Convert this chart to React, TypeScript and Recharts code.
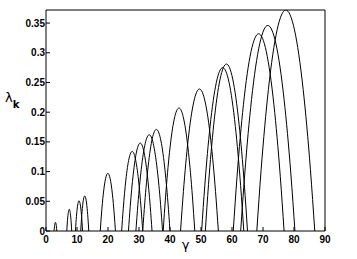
import { Label, Line, LineChart, XAxis, YAxis } from "recharts";

const xTicks = [0, 10, 20, 30, 40, 50, 60, 70, 80, 90];
const yTicks = [0, 0.05, 0.1, 0.15, 0.2, 0.25, 0.3, 0.35];

// gamma positions of each branch
const arcGamma = [
  [2.6, 2.67, 2.78, 2.92, 3.05, 3.19, 3.32, 3.43, 3.5],
  [6.7, 6.82, 7.02, 7.26, 7.5, 7.74, 7.98, 8.18, 8.3],
  [9.5, 9.67, 9.96, 10.31, 10.65, 10.99, 11.34, 11.63, 11.8],
  [11.2, 11.4, 11.72, 12.11, 12.5, 12.89, 13.28, 13.6, 13.8],
  [17.5, 17.87, 18.48, 19.22, 19.95, 20.69, 21.42, 22.03, 22.4],
  [24.4, 24.91, 25.76, 26.78, 27.8, 28.82, 29.84, 30.69, 31.2],
  [26.6, 27.17, 28.12, 29.26, 30.4, 31.54, 32.68, 33.63, 34.2],
  [29.0, 29.65, 30.72, 32.01, 33.3, 34.59, 35.88, 36.96, 37.6],
  [31.2, 31.86, 32.96, 34.28, 35.6, 36.92, 38.24, 39.34, 40.0],
  [37.8, 38.57, 39.84, 41.37, 42.9, 44.43, 45.96, 47.24, 48.0],
  [43.4, 44.32, 45.84, 47.67, 49.5, 51.33, 53.16, 54.69, 55.6],
  [50.2, 51.22, 52.92, 54.96, 57.0, 59.04, 61.08, 62.78, 63.8],
  [51.4, 52.42, 54.12, 56.16, 58.2, 60.24, 62.28, 63.98, 65.0],
  [60.4, 61.63, 63.68, 66.14, 68.6, 71.06, 73.52, 75.57, 76.8],
  [62.8, 64.11, 66.3, 68.93, 71.55, 74.18, 76.8, 78.99, 80.3],
  [68.0, 69.4, 71.74, 74.55, 77.35, 80.16, 82.96, 85.3, 86.7],
];

// lambda_k values along each branch
const arcLambda = [
  [0, 0.004, 0.0093, 0.0132, 0.0145, 0.0132, 0.0093, 0.004, 0],
  [0, 0.0101, 0.0234, 0.0332, 0.0365, 0.0332, 0.0234, 0.0101, 0],
  [0, 0.0142, 0.0326, 0.0464, 0.051, 0.0464, 0.0326, 0.0142, 0],
  [0, 0.0164, 0.0378, 0.0537, 0.059, 0.0537, 0.0378, 0.0164, 0],
  [0, 0.0269, 0.0621, 0.0883, 0.097, 0.0883, 0.0621, 0.0269, 0],
  [0, 0.0372, 0.0858, 0.1219, 0.134, 0.1219, 0.0858, 0.0372, 0],
  [0, 0.0411, 0.0947, 0.1347, 0.148, 0.1347, 0.0947, 0.0411, 0],
  [0, 0.045, 0.1037, 0.1474, 0.162, 0.1474, 0.1037, 0.045, 0],
  [0, 0.0475, 0.1094, 0.1556, 0.171, 0.1556, 0.1094, 0.0475, 0],
  [0, 0.0574, 0.1325, 0.1884, 0.207, 0.1884, 0.1325, 0.0574, 0],
  [0, 0.0663, 0.153, 0.2175, 0.239, 0.2175, 0.153, 0.0663, 0],
  [0, 0.0763, 0.176, 0.2503, 0.275, 0.2503, 0.176, 0.0763, 0],
  [0, 0.078, 0.1798, 0.2557, 0.281, 0.2557, 0.1798, 0.078, 0],
  [0, 0.0921, 0.2125, 0.3021, 0.332, 0.3021, 0.2125, 0.0921, 0],
  [0, 0.096, 0.2214, 0.3149, 0.346, 0.3149, 0.2214, 0.096, 0],
  [0, 0.1032, 0.2381, 0.3385, 0.372, 0.3385, 0.2381, 0.1032, 0],
];

const arcData = arcGamma.map((gs, i) =>
  gs.map((g, j) => ({ g, l: arcLambda[i][j] }))
);

const tickStyle = {
  fill: "#000",
  fontSize: 10,
  fontWeight: "bold" as const,
  fontFamily: "Liberation Sans, Arial, sans-serif",
};

export default function App() {
  return (
    <div style={{ position: "absolute", left: 0, top: 0, background: "#fff" }}>
      <LineChart
        width={357}
        height={259}
        margin={{ top: 9, right: 31, left: 0, bottom: 0 }}
      >
        <XAxis
          dataKey="g"
          type="number"
          domain={[0, 90]}
          ticks={xTicks}
          allowDataOverflow
          height={28}
          stroke="#000"
          tickSize={-4}
          tickMargin={9}
          tick={tickStyle}
        >
          <Label
            content={({ viewBox }: any) => (
              <text
                x={viewBox.x + viewBox.width / 2}
                y={viewBox.y + 18}
                textAnchor="middle"
                fontSize={13}
                fontFamily="DejaVu Sans, sans-serif"
                fill="#000"
              >
                γ
              </text>
            )}
          />
        </XAxis>
        <XAxis
          xAxisId="top"
          orientation="top"
          dataKey="g"
          type="number"
          domain={[0, 90]}
          ticks={xTicks}
          allowDataOverflow
          height={1}
          stroke="#000"
          tickSize={-4}
          tick={false}
        />
        <YAxis
          type="number"
          domain={[0, 0.372]}
          ticks={yTicks}
          allowDataOverflow
          width={46}
          stroke="#000"
          tickSize={-4}
          tickMargin={5}
          tick={tickStyle}
        >
          <Label
            content={() => (
              <text x={5} y={102} fill="#000" fontFamily="DejaVu Sans, sans-serif">
                <tspan fontSize={13}>λ</tspan>
                <tspan fontSize={10} fontWeight="bold" dy={6}>
                  k
                </tspan>
              </text>
            )}
          />
        </YAxis>
        <YAxis
          yAxisId="right"
          orientation="right"
          type="number"
          domain={[0, 0.372]}
          ticks={yTicks}
          allowDataOverflow
          width={1}
          stroke="#000"
          tickSize={-4}
          tick={false}
        />
        {arcData.map((d, i) => (
          <Line
            key={i}
            data={d}
            dataKey="l"
            type="monotone"
            stroke="#000"
            strokeWidth={1}
            dot={false}
            isAnimationActive={false}
          />
        ))}
        {/* invisible series so the top and right frame axes get drawn */}
        <Line
          data={arcData[0]}
          dataKey="l"
          xAxisId="top"
          yAxisId="right"
          stroke="none"
          dot={false}
          legendType="none"
          isAnimationActive={false}
        />
      </LineChart>
    </div>
  );
}
